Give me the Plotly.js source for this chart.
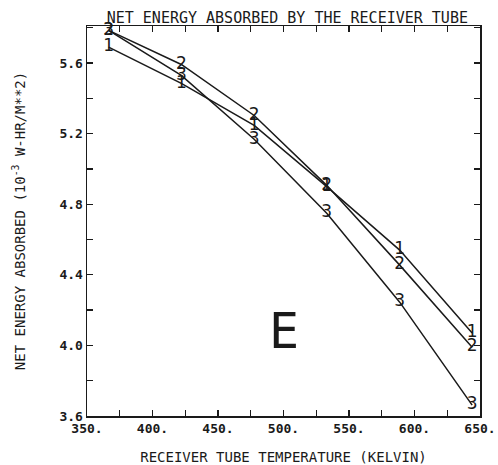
<!DOCTYPE html>
<html>
<head>
<meta charset="utf-8">
<script src="https://cdn.plot.ly/plotly-3.0.1.min.js"></script>
<style>html,body{margin:0;padding:0;background:#fff;}</style>
</head>
<body>
<div id="chart" style="width:498px;height:465px;"></div>
<script>
// Receiver tube temperature (K)
const temperature = [366.5, 422, 477.6, 533, 588.7, 644];
// Net energy absorbed (10^-3 W-HR/M**2)
const series1 = [5.69, 5.485, 5.247, 4.90, 4.54, 4.07];
const series2 = [5.785, 5.592, 5.303, 4.907, 4.455, 3.99];
const series3 = [5.785, 5.53, 5.168, 4.749, 4.245, 3.662];
const seriesLabels = ['1', '2', '3'];
const xTickVals = [350, 400, 450, 500, 550, 600, 650];
const xTickText = ['350.', '400.', '450.', '500.', '550.', '600.', '650.'];
const yTickVals = [3.6, 4.0, 4.4, 4.8, 5.2, 5.6];
const yTickText = ['3.6', '4.0', '4.4', '4.8', '5.2', '5.6'];

const ink = '#1a1a1a';
const mono = 'DejaVu Sans Mono, monospace';

function mk(y, label) {
  return {
    x: temperature, y: y, mode: 'lines+text', type: 'scatter',
    text: temperature.map(() => label), textposition: 'middle center',
    textfont: {family: 'DejaVu Sans', size: 17, color: ink},
    line: {color: ink, width: 1.5}, showlegend: false, cliponaxis: false, hoverinfo: 'skip'
  };
}
const data = [mk(series1, seriesLabels[0]), mk(series2, seriesLabels[1]), mk(series3, seriesLabels[2])];

const layout = {
  width: 498, height: 465,
  margin: {l: 87, r: 18, t: 26, b: 49},
  paper_bgcolor: '#fff', plot_bgcolor: '#fff',
  title: {text: 'NET ENERGY ABSORBED BY THE RECEIVER TUBE', x: 0.577, xanchor: 'center', y: 0.962, yanchor: 'middle',
          font: {family: mono, size: 15, color: ink}},
  xaxis: {
    range: [350, 650], tickmode: 'array', tickvals: xTickVals, ticktext: xTickText,
    ticks: 'inside', ticklen: 6, tickwidth: 1.3, tickcolor: ink,
    minor: {dtick: 25, tick0: 350, ticks: 'inside', ticklen: 6, tickwidth: 1.3, tickcolor: ink, showgrid: false},
    showgrid: false, zeroline: false, showline: true, linecolor: ink, linewidth: 1.5, mirror: 'ticks',
    tickfont: {family: mono, size: 13, color: ink, weight: 'bold'},
    title: {text: 'RECEIVER TUBE TEMPERATURE (KELVIN)', font: {family: mono, size: 14, color: ink}, standoff: 19}
  },
  yaxis: {
    range: [3.6, 5.81], tickmode: 'array', tickvals: yTickVals, ticktext: yTickText,
    ticks: 'inside', ticklen: 6, tickwidth: 1.3, tickcolor: ink,
    minor: {dtick: 0.2, tick0: 3.6, ticks: 'inside', ticklen: 6, tickwidth: 1.3, tickcolor: ink, showgrid: false},
    showgrid: false, zeroline: false, showline: true, linecolor: ink, linewidth: 1.5, mirror: 'ticks',
    tickfont: {family: mono, size: 13, color: ink, weight: 'bold'},
    title: {text: 'NET ENERGY ABSORBED (10<sup>-3</sup> W-HR/M**2)', font: {family: mono, size: 14, color: ink}, standoff: 30}
  },
  annotations: [{
    text: 'E', xref: 'paper', yref: 'paper', x: 0.501, y: 0.217, xanchor: 'center', yanchor: 'middle', showarrow: false,
    font: {family: mono, size: 50, color: ink}
  }]
};

Plotly.newPlot('chart', data, layout, {displayModeBar: false, staticPlot: true});
</script>
</body>
</html>
